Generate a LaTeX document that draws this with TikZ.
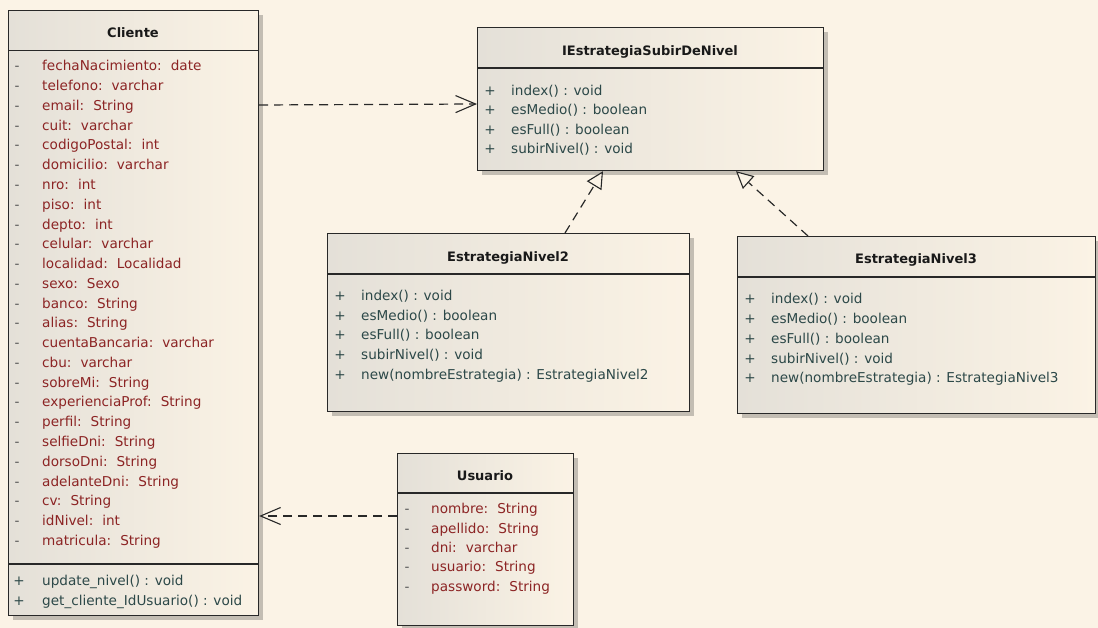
\documentclass[tikz,border=0pt]{standalone}
\usepackage{fontspec}
\setmainfont{DejaVu Sans}
\usetikzlibrary{arrows.meta,shadows,calc}
\definecolor{bg}{RGB}{251,243,230}
\definecolor{boxL}{RGB}{228,224,216}
\definecolor{boxR}{RGB}{251,243,229}
\definecolor{linec}{RGB}{40,40,40}
\definecolor{attrc}{RGB}{140,36,36}
\definecolor{methc}{RGB}{44,72,72}
\definecolor{markc}{RGB}{85,85,85}
\newcommand{\atr}[2]{#1:\hspace{9pt}#2}
\begin{document}
\begin{tikzpicture}[x=1pt,y=-1pt,
  classbox/.style={draw=linec, line width=1.2pt, left color=boxL, right color=boxR,
    anchor=north west, inner sep=0pt,
    drop shadow={shadow xshift=4pt, shadow yshift=-4pt, fill=black, opacity=0.22}},
  divline/.style={draw=linec, line width=1.1pt},
  title/.style={anchor=base, inner sep=0pt, font=\bfseries\fontsize{13}{15}\selectfont, text=black!90},
  attr/.style={anchor=base west, inner sep=0pt, font=\fontsize{13.6}{16}\selectfont, text=attrc},
  meth/.style={anchor=base west, inner sep=0pt, font=\fontsize{13.6}{16}\selectfont, text=methc},
  amark/.style={anchor=base, inner sep=0pt, font=\fontsize{13.6}{16}\selectfont, text=markc},
  mmark/.style={anchor=base, inner sep=0pt, font=\fontsize{13.6}{16}\selectfont, text=methc},
  dep/.style={draw=linec, line width=1.2pt, dash pattern=on 9pt off 6pt,
    -{Straight Barb[length=20pt,width=17pt,line width=1.1pt]}},
  real/.style={draw=linec, line width=1.2pt, dash pattern=on 9pt off 6pt,
    -{Triangle[open,length=17pt,width=17pt,line width=1.1pt,fill=bg]}}
]
\useasboundingbox[fill=bg] (0,0) rectangle (1098,628);

% ---------- Cliente ----------
\node[classbox, minimum width=250pt, minimum height=605pt] (cliente) at (8,10) {};
\draw[divline] (cliente.west |- 0,50.7) -- (cliente.east |- 0,50.7);
\draw[divline] (cliente.west |- 0,564) -- (cliente.east |- 0,564);
\node[title] (clienteT) at (133,38) {Cliente};
\foreach \n/\ty [count=\i from 0] in {fechaNacimiento/date, telefono/varchar, email/String,
  cuit/varchar, codigoPostal/int, domicilio/varchar, nro/int, piso/int, depto/int,
  celular/varchar, localidad/Localidad, sexo/Sexo, banco/String, alias/String,
  cuentaBancaria/varchar, cbu/varchar, sobreMi/String, experienciaProf/String,
  perfil/String, selfieDni/String, dorsoDni/String, adelanteDni/String, cv/String,
  idNivel/int, matricula/String}{
  \node[amark] (cam\i) at (17,{70.9+\i*19.77}) {-};
  \node[attr] (ca\i) at (42,{70.9+\i*19.77}) {\atr{\n}{\ty}};
}
\foreach \t [count=\i from 0] in {update\_nivel() : void, get\_cliente\_IdUsuario() : void}{
  \node[mmark] (cmm\i) at (19,{585.2+\i*20}) {+};
  \node[meth] (cm\i) at (42,{585.2+\i*20}) {\t};
}

% ---------- IEstrategiaSubirDeNivel ----------
\node[classbox, minimum width=346pt, minimum height=143pt] (iface) at (477,27) {};
\draw[divline] (iface.west |- 0,68) -- (iface.east |- 0,68);
\node[title] (ifaceT) at (650,56) {IEstrategiaSubirDeNivel};
\foreach \t [count=\i from 0] in {index() : void, esMedio() : boolean, esFull() : boolean, subirNivel() : void}{
  \node[mmark] (imm\i) at (490,{95.2+\i*19.55}) {+};
  \node[meth] (im\i) at (511,{95.2+\i*19.55}) {\t};
}

% ---------- EstrategiaNivel2 ----------
\node[classbox, minimum width=362pt, minimum height=178pt] (nivel2) at (327,233) {};
\draw[divline] (nivel2.west |- 0,274) -- (nivel2.east |- 0,274);
\node[title] (nivel2T) at (508,262) {EstrategiaNivel2};
\foreach \t [count=\i from 0] in {index() : void, esMedio() : boolean, esFull() : boolean, subirNivel() : void, new(nombreEstrategia) : EstrategiaNivel2}{
  \node[mmark] (n2mm\i) at (340,{300.5+\i*19.75}) {+};
  \node[meth] (n2m\i) at (361,{300.5+\i*19.75}) {\t};
}

% ---------- EstrategiaNivel3 ----------
\node[classbox, minimum width=358pt, minimum height=177pt] (nivel3) at (737,236) {};
\draw[divline] (nivel3.west |- 0,277) -- (nivel3.east |- 0,277);
\node[title] (nivel3T) at (916,264) {EstrategiaNivel3};
\foreach \t [count=\i from 0] in {index() : void, esMedio() : boolean, esFull() : boolean, subirNivel() : void, new(nombreEstrategia) : EstrategiaNivel3}{
  \node[mmark] (n3mm\i) at (750,{303.8+\i*19.75}) {+};
  \node[meth] (n3m\i) at (771,{303.8+\i*19.75}) {\t};
}

% ---------- Usuario ----------
\node[classbox, minimum width=176pt, minimum height=172pt] (usuario) at (397,453) {};
\draw[divline] (usuario.west |- 0,493) -- (usuario.east |- 0,493);
\node[title] (usuarioT) at (485,480) {Usuario};
\foreach \n/\ty [count=\i from 0] in {nombre/String, apellido/String, dni/varchar, usuario/String, password/String}{
  \node[amark] (uam\i) at (407,{513.8+\i*19.35}) {-};
  \node[attr] (ua\i) at (431,{513.8+\i*19.35}) {\atr{\n}{\ty}};
}

% ---------- Connectors ----------
\draw[dep] (cliente.east |- 0,105) -- (iface.west |- 0,104);
\draw[real] (nivel2.north -| 565,0) -- (iface.south -| 603,0);
\draw[real] (nivel3.north -| 808,0) -- (iface.south -| 736,0);
\draw[dep] (usuario.west |- 0,516) -- (cliente.east |- 0,516);
\end{tikzpicture}
\end{document}
